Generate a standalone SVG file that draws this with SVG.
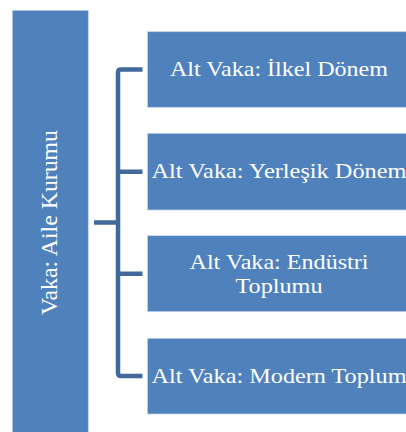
<svg xmlns="http://www.w3.org/2000/svg" width="406" height="432" viewBox="0 0 406 432">
<style>
.box{fill:#4F81BD;stroke:#C5D4EA;stroke-width:0.75}
.t{font-family:"Liberation Serif","Times New Roman",serif;fill:#ffffff;font-size:22px;text-anchor:middle}
.conn{fill:none;stroke:#41699B;stroke-width:4.5}
</style>
<rect width="406" height="432" fill="#ffffff"/>
<g id="connectors">
<path class="conn" d="M142.5,69.5 H121 Q118,69.5 118,72.5 V373 Q118,376 121,376 H142.5"/>
<path class="conn" d="M118,171.7 H142.5 M118,273.7 H142.5 M94,222.5 H118"/>
</g>
<g id="main">
<rect class="box" x="12.3" y="10.3" width="76" height="430"/>
<text class="t" style="font-size:23px" transform="translate(57,222.5) rotate(-90)" x="0" y="0" textLength="185" lengthAdjust="spacingAndGlyphs">Vaka: Aile Kurumu</text>
</g>
<g id="n1">
<rect class="box" x="147.5" y="31.7" width="270" height="75.6"/>
<text class="t" x="279" y="76" textLength="218" lengthAdjust="spacingAndGlyphs">Alt Vaka: İlkel Dönem</text>
</g>
<g id="n2">
<rect class="box" x="147.5" y="133.3" width="270" height="76.7"/>
<text class="t" x="279" y="178" textLength="255" lengthAdjust="spacingAndGlyphs">Alt Vaka: Yerleşik Dönem</text>
</g>
<g id="n3">
<rect class="box" x="147.5" y="235.7" width="270" height="76"/>
<text class="t" x="279" y="268.5" textLength="179" lengthAdjust="spacingAndGlyphs">Alt Vaka: Endüstri</text>
<text class="t" x="279" y="293" textLength="87" lengthAdjust="spacingAndGlyphs">Toplumu</text>
</g>
<g id="n4">
<rect class="box" x="147.5" y="338.3" width="270" height="75.7"/>
<text class="t" x="279" y="382.5" textLength="255" lengthAdjust="spacingAndGlyphs">Alt Vaka: Modern Toplum</text>
</g>
</svg>
